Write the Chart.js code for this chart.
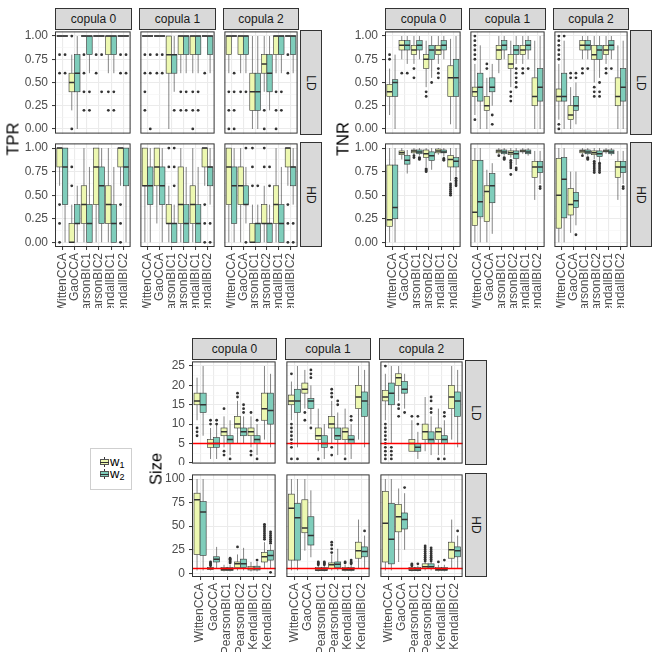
<!DOCTYPE html>
<html>
<head>
<meta charset="utf-8">
<script src="https://cdn.jsdelivr.net/npm/chart.js"></script>
<style>
body { margin: 0; width: 660px; height: 660px; background: #fff; position: relative; overflow: hidden;
       font-family: "Liberation Sans", Arial, sans-serif; }
canvas, .strip, .title, .clip { position: absolute; }
.clip { left: 0; top: 0; width: 660px; height: 308px; overflow: hidden; }
.strip { background: #D9D9D9; border: 1px solid #333; box-sizing: border-box; color: #1A1A1A; font-size: 12px;
         display: flex; align-items: center; justify-content: center; }
.strip span.rot { transform: rotate(90deg); display: inline-block; }
.title { font-size: 16.5px; font-weight: 400; color: #000; transform: translate(-50%, -50%) rotate(-90deg); white-space: nowrap; }
#legend { position: absolute; left: 90px; top: 448px; width: 42px; height: 42px; border: 1px solid #cfcfcf;
          box-sizing: border-box; font-size: 13px; }
.key { position: absolute; width: 9px; height: 10px; }
.key .wh { position: absolute; left: 4px; top: 0; width: 1px; height: 10px; background: #333; }
.key .bx { position: absolute; left: 0; top: 2px; width: 9px; height: 6px; border: 1px solid #555; box-sizing: border-box; }
.key .md { position: absolute; left: 0; top: 4.5px; width: 9px; height: 1px; background: #333; }
.lab { position: absolute; line-height: 13px; color: #000; }
.lab sub { font-size: 9px; vertical-align: -2px; }
</style>
</head>
<body>
<div class="clip" id="top"></div>
<div id="legend"></div>
<script>
const methods = ['WittenCCA', 'GaoCCA', 'PearsonBIC1', 'PearsonBIC2', 'KendallBIC1', 'KendallBIC2'];
const copulas = ['copula 0', 'copula 1', 'copula 2'];
const dims = ['LD', 'HD'];
const series = ['w1', 'w2'];

const unitTicks = [0, 0.25, 0.5, 0.75, 1];
const sizeLDTicks = [0, 5, 10, 15, 20, 25];
const sizeHDTicks = [0, 25, 50, 75, 100];

// one entry per method: [w1, w2], each box = [lower whisker, q1, median, q3, upper whisker, [outliers]]
const tprLD0 = [
  [[1, 1, 1, 1, 1, [.8, .6]], [1, 1, 1, 1, 1, [.8, .6]]],
  [[.2, .4, .5, .6, .8, [1, 0]], [0, .4, .6, .8, 1, []]],
  [[1, 1, 1, 1, 1, [.8, .6, .4, .2]], [.6, .8, 1, 1, 1, [.4, .2]]],
  [[1, 1, 1, 1, 1, [.8, .6]], [1, 1, 1, 1, 1, [.8, .4]]],
  [[.6, .8, 1, 1, 1, [.4, .2]], [.6, .8, 1, 1, 1, [.4, .2]]],
  [[1, 1, 1, 1, 1, [.8, .6]], [1, 1, 1, 1, 1, [.8, .6]]]
];
const tprLD1 = [
  [[1, 1, 1, 1, 1, [.8, .6, .4, .2]], [1, 1, 1, 1, 1, [.8, .6, 0]]],
  [[1, 1, 1, 1, 1, [.8, .6]], [1, 1, 1, 1, 1, [.8, .6]]],
  [[0, .6, .8, 1, 1, []], [.4, .6, .8, .8, 1, [.2]]],
  [[.6, .8, 1, 1, 1, [.4, .2]], [.6, .8, 1, 1, 1, [.4, .2]]],
  [[.6, .8, 1, 1, 1, [.4, .2, 0]], [.6, .8, 1, 1, 1, [.4, .2]]],
  [[1, 1, 1, 1, 1, [.6]], [.6, .8, 1, 1, 1, []]]
];
const tprLD2 = [
  [[.6, .8, 1, 1, 1, [.4, .2, 0]], [1, 1, 1, 1, 1, [.6, .4, .2, 0]]],
  [[.6, .8, 1, 1, 1, [.4]], [.6, .8, 1, 1, 1, [.4]]],
  [[0, .2, .4, .6, 1, []], [0, .2, .4, .6, 1, []]],
  [[.4, .6, .7, .8, 1, [.2, 0]], [.2, .4, .6, .8, 1, []]],
  [[.6, .8, 1, 1, 1, [.4, .2, 0]], [.6, .8, 1, 1, 1, [.4, .2]]],
  [[1, 1, 1, 1, 1, [.8, .6]], [.6, .8, 1, 1, 1, []]]
];
const tprHD0 = [
  [[.6, .8, 1, 1, 1, [.4, .2, 0]], [0, .4, .8, 1, 1, []]],
  [[0, 0, 0, .2, .4, [.8, .6]], [0, .2, .2, .4, .6, []]],
  [[0, .2, .4, .6, 1, []], [0, 0, .2, .4, .8, []]],
  [[0, .4, .8, 1, 1, []], [0, .2, .6, .8, 1, []]],
  [[0, .2, .4, .6, 1, []], [0, 0, .2, .4, .8, []]],
  [[.6, .8, 1, 1, 1, [.4, .2, 0]], [0, .6, .8, 1, 1, []]]
];
const tprHD1 = [
  [[0, .6, .6, 1, 1, []], [0, .4, .6, .8, 1, []]],
  [[.2, .6, .8, 1, 1, []], [0, .4, .6, .8, 1, []]],
  [[0, .2, .2, .4, .6, [1, .8]], [0, 0, .2, .2, .4, [1, .8, .6]]],
  [[0, .2, .4, .8, 1, []], [0, 0, .2, .4, .8, []]],
  [[0, .2, .4, .6, 1, []], [0, 0, .2, .4, .8, []]],
  [[.6, .8, 1, 1, 1, [.4, .2, 0]], [.4, .6, .8, .8, 1, [.2, 0]]]
];
const tprHD2 = [
  [[0, .4, .8, 1, 1, []], [0, .2, .6, .8, 1, []]],
  [[0, .4, .6, .8, 1, []], [.2, .4, .4, .6, .8, [1, 0]]],
  [[0, 0, 0, .2, .4, [1, .8, .6]], [0, 0, .2, .2, .4, [.6]]],
  [[0, .2, .2, .4, .6, [1, .8]], [0, 0, .2, .2, .4, [.8, .6]]],
  [[0, .2, .4, .6, 1, []], [0, 0, .2, .4, .8, []]],
  [[.6, .8, 1, 1, 1, [.4, .2, 0]], [.4, .6, .8, .8, 1, [.2, 0]]]
];

const tnrLD0 = [
  [[.15, .35, .4, .48, .65, [.75, .8]], [0, .35, .5, .53, .8, []]],
  [[.75, .85, .9, .95, 1, [.6]], [.7, .85, .9, .95, 1, [.6]]],
  [[.7, .8, .85, .9, 1, [.65, .55]], [.75, .85, .9, .95, 1, []]],
  [[.45, .65, .75, .8, .95, [.4, .35]], [.55, .75, .85, .9, 1, [.5]]],
  [[.7, .8, .85, .9, 1, [.65, .6, .55]], [.75, .85, .9, .95, 1, []]],
  [[.05, .35, .55, .68, .97, []], [0, .35, .55, .75, 1, []]]
];
const tnrLD1 = [
  [[.15, .35, .4, .45, .7, [1, .95, .9, .85, .8, .75, .1]], [0, .3, .45, .6, .9, []]],
  [[0, .2, .25, .35, .55, [.7, .65]], [.25, .4, .45, .55, .7, [.15, .05]]],
  [[.6, .75, .85, .9, 1, []], [.75, .85, .9, .95, 1, []]],
  [[.45, .65, .7, .8, .95, [.4, .35, .3]], [.7, .8, .85, .9, 1, [.65, .6, .55, .5, .45]]],
  [[.7, .8, .85, .9, 1, [.65, .6]], [.75, .85, .9, .95, 1, [.65]]],
  [[0, .25, .35, .55, .95, []], [0, .3, .45, .65, 1, []]]
];
const tnrLD2 = [
  [[.1, .3, .35, .43, .7, [1, .95, .9, .85, .8, .75, .05, 0]], [0, .3, .35, .6, .95, [1]]],
  [[0, .1, .15, .25, .45, [.6, .55]], [.05, .2, .25, .35, .5, [.6, .55]]],
  [[.75, .85, .9, .95, 1, [.65, .6]], [.75, .85, .9, .95, 1, [.65]]],
  [[.5, .75, .8, .9, 1, [.45, .4, .35]], [.55, .75, .85, .9, 1, [.5, .4, .35]]],
  [[.7, .8, .85, .9, 1, [.65, .6]], [.75, .85, .9, .95, 1, [.65]]],
  [[0, .25, .35, .55, .9, []], [0, .3, .45, .65, .95, []]]
];
const tnrHD0 = [
  [[0, .17, .24, .82, 1, []], [0, .25, .37, .82, 1, []]],
  [[.88, .93, .95, .97, 1, []], [.73, .83, .87, .92, .98, []]],
  [[.93, .95, .97, .98, 1, [.92, .9]], [.92, .94, .96, .98, 1, [.9, .89, .88]]],
  [[.8, .9, .94, .98, 1, [.78, .77, .76, .75]], [.77, .87, .92, .96, 1, []]],
  [[.93, .95, .97, .99, 1, []], [.91, .95, .96, .98, 1, [.89, .88, .87]]],
  [[.65, .8, .88, .92, 1, [.62, .6, .58, .56, .54, .52, .5]], [.7, .8, .86, .9, 1, [.68, .66, .64, .62, .6]]]
];
const tnrHD1 = [
  [[0, .18, .32, .87, 1, []], [0, .27, .43, .87, 1, []]],
  [[0, .22, .54, .6, .77, []], [.09, .42, .6, .73, .84, []]],
  [[.93, .95, .97, .98, 1, [.92]], [.92, .94, .96, .98, 1, [.9, .89, .88]]],
  [[.9, .93, .95, .97, 1, [.87, .85, .83, .81, .79, .72]], [.82, .89, .94, .97, 1, [.79, .77]]],
  [[.94, .96, .97, .98, 1, []], [.92, .94, .96, .98, 1, []]],
  [[.45, .69, .8, .86, .97, []], [.62, .74, .8, .86, .97, [.59, .57]]]
];
const tnrHD2 = [
  [[0, .15, .5, .89, 1, []], [0, .26, .67, .9, 1, []]],
  [[.1, .29, .4, .57, .75, []], [.18, .37, .44, .53, .75, [.08]]],
  [[.93, .95, .97, .98, 1, [.92]], [.92, .94, .96, .98, 1, [.9, .89, .88]]],
  [[.88, .93, .95, .97, 1, [.86, .84, .82, .8, .78, .76, .74]], [.85, .91, .94, .97, 1, [.84, .82, .8, .78, .76, .74]]],
  [[.94, .96, .97, .98, 1, []], [.92, .94, .96, .98, 1, []]],
  [[.45, .69, .8, .86, .97, []], [.62, .74, .8, .86, .97, [.59, .57]]]
];

const sizeLD0 = [
  [[11, 15, 16, 18, 22, [9, 8, 7]], [7, 13, 15, 18, 25, []]],
  [[1, 4, 5, 6, 9, [11, 10]], [1, 4, 5, 6.5, 10, [11, 10]]],
  [[4, 7, 8, 9, 12, [14, 3, 2]], [2, 5, 6, 7, 11, [1]]],
  [[5, 9, 10, 12, 16, [18, 17]], [5, 7, 8, 9, 12, [15, 14, 13]]],
  [[4, 7, 8, 9, 12, [13, 3, 2]], [2, 5, 6, 7, 10, [11, 1]]],
  [[6, 11, 14, 18, 25, []], [4, 10, 13.5, 18, 23, []]]
];
const sizeLD1 = [
  [[11, 15, 16, 17.5, 21, [23, 10, 9, 8, 7, 6, 5, 4, 1]], [4, 13, 16, 19, 25, [1]]],
  [[14, 18, 19, 20.6, 24, [13, 11]], [10, 14, 16, 16.6, 20, [24, 23, 22, 9]]],
  [[3, 6, 7, 9, 14, [1]], [1, 4, 5, 7, 10, []]],
  [[5, 9, 10, 12, 16, [19, 18, 17, 4, 2]], [2, 6, 7, 9, 13, [16, 15]]],
  [[2, 6, 8, 9, 14, [1]], [1, 5, 6, 7, 10, [12, 11]]],
  [[6, 14, 17, 20, 25, []], [4, 12, 16, 18.3, 24, []]]
];
const sizeLD2 = [
  [[11, 16, 17, 18.7, 23, [25, 10, 9, 8, 7, 6, 5, 4, 3, 2, 1]], [5, 15, 18, 20.6, 25, [4, 3, 2, 1]]],
  [[16, 20, 22, 23, 25, [15, 14, 12]], [14, 18, 19, 21, 23, [13]]],
  [[3, 3, 5, 6, 11, [12]], [1, 3, 4, 5, 8, [12, 10]]],
  [[3, 6, 8, 10, 17, []], [2, 5, 6, 8, 12, [17, 16, 14, 13]]],
  [[2, 6, 8, 9, 14, [1]], [2, 5, 6, 7, 11, [13, 12, 1]]],
  [[6, 14, 17, 20, 25, []], [4, 12, 16, 18.3, 24, []]]
];
const sizeHD0 = [
  [[3, 20, 78, 85, 100, []], [3, 19, 65, 76, 100, []]],
  [[3, 4, 5, 6, 7, [12, 11, 10, 9, 8]], [5, 12, 15, 17.5, 28, []]],
  [[2, 3, 4, 6, 9, []], [2, 3, 4, 6, 9, [16, 15, 14, 13, 12, 11]]],
  [[3, 6, 10, 12, 20, [28]], [3, 6, 10, 15, 27, []]],
  [[2, 3.5, 5, 7, 12, []], [2, 3.5, 5, 7.5, 12, [14]]],
  [[5, 12, 17.5, 22, 33, [52, 50, 48, 46, 44, 42, 40, 38, 36]], [5, 14, 19, 24, 30, [44, 42, 40, 38, 36, 34, 32, 1]]]
];
const sizeHD1 = [
  [[3, 14, 69, 84, 100, []], [3, 14, 59, 74, 100, []]],
  [[24, 43, 48, 78, 100, []], [17, 30, 40, 60, 88, []]],
  [[2, 3, 3.5, 6, 8, [12, 11, 10, 9]], [2, 3, 3.5, 6, 8, [12, 11, 10, 9]]],
  [[3, 5, 9, 11, 20, [33, 30, 26, 22]], [3, 6, 9.5, 12, 26, []]],
  [[2, 3, 4, 6, 9, [12, 11]], [2, 3, 4, 6, 9, [14, 12, 11, 10]]],
  [[5, 16, 24, 33, 57, []], [5, 17.5, 23, 28, 40, [45]]]
];
const sizeHD2 = [
  [[3, 12, 53, 87, 100, []], [3, 10, 36, 74, 100, []]],
  [[12, 44, 60, 73, 90, []], [25, 47, 57, 64, 85, [91]]],
  [[2, 3, 3.5, 6, 8, [10, 9, 8]], [2, 3, 3.5, 6, 8, [10]]],
  [[3, 5, 7, 10, 12, [29, 27, 25, 23, 21, 19, 17, 15, 13]], [3, 5, 7, 10, 12, [27, 25, 23, 21, 19, 17, 15, 13]]],
  [[2, 3, 4, 6, 9, [12]], [2, 3, 4, 6, 9, [14]]],
  [[5, 16, 25, 33, 57, []], [5, 17.5, 24, 28, 40, [45]]]
];

const FONT = '"Liberation Sans", Arial, sans-serif';
const fills = ['#EDF8B1', '#7FCDBB'];
const dodge = [-0.225, 0.225];
const half = 0.225;

// facet blocks (layout only)
const blocks = [
  { title: 'TPR', parent: 'top', data: [[tprLD0, tprLD1, tprLD2], [tprHD0, tprHD1, tprHD2]],
    ticks: [unitTicks, unitTicks], ranges: [[-0.05, 1.05], [-0.05, 1.05]], fmt: v => v.toFixed(2), ref: null,
    cols: [[55, 132], [139, 216], [223, 299]], rows: [[30, 135], [142, 247]], strip: [8, 30], rstrip: [300, 322], tx: 13 },
  { title: 'TNR', parent: 'top', data: [[tnrLD0, tnrLD1, tnrLD2], [tnrHD0, tnrHD1, tnrHD2]],
    ticks: [unitTicks, unitTicks], ranges: [[-0.05, 1.05], [-0.05, 1.05]], fmt: v => v.toFixed(2), ref: null,
    cols: [[385, 462], [469, 546], [553, 629]], rows: [[30, 135], [142, 247]], strip: [8, 30], rstrip: [630, 652], tx: 343 },
  { title: 'Size', parent: 'body', data: [[sizeLD0, sizeLD1, sizeLD2], [sizeHD0, sizeHD1, sizeHD2]],
    ticks: [sizeLDTicks, sizeHDTicks], ranges: [[-0.2, 26.2], [-3.95, 104.95]], fmt: v => String(v), ref: 5,
    cols: [[192, 277], [285, 371], [379, 464]], rows: [[360, 465], [473, 577]], strip: [338, 360], rstrip: [465, 487], tx: 156 }
];

function withMinor(major) {
  const out = [];
  major.forEach((v, i) => {
    out.push({ value: v });
    if (i < major.length - 1) out.push({ value: (v + major[i + 1]) / 2, minor: true });
  });
  return out;
}

function boxPlugin(stats, ref) {
  return {
    id: 'boxes',
    beforeDatasetsDraw(chart) {
      const { ctx, chartArea: a, scales: { x, y } } = chart;
      const py = v => y.getPixelForValue(v);
      ctx.save();
      ctx.beginPath(); ctx.rect(a.left, a.top, a.width, a.height); ctx.clip();
      stats.forEach((pair, i) => pair.forEach((b, s) => {
        const c = i + 1 + dodge[s];
        const xl = x.getPixelForValue(c - half), xr = x.getPixelForValue(c + half), xm = x.getPixelForValue(c);
        ctx.strokeStyle = '#333';
        ctx.lineWidth = 0.6;
        ctx.beginPath();
        ctx.moveTo(xm, py(b[4])); ctx.lineTo(xm, py(b[3]));
        ctx.moveTo(xm, py(b[1])); ctx.lineTo(xm, py(b[0]));
        ctx.stroke();
        ctx.fillStyle = fills[s];
        ctx.fillRect(xl, py(b[3]), xr - xl, py(b[1]) - py(b[3]));
        ctx.strokeRect(xl, py(b[3]), xr - xl, py(b[1]) - py(b[3]));
        ctx.lineWidth = 1.5;
        ctx.beginPath(); ctx.moveTo(xl, py(b[2])); ctx.lineTo(xr, py(b[2])); ctx.stroke();
      }));
      ctx.restore();
    },
    afterDatasetsDraw(chart) {
      if (ref === null) return;
      const { ctx, chartArea: a, scales: { y } } = chart;
      const yy = y.getPixelForValue(ref);
      ctx.save();
      ctx.strokeStyle = 'rgb(255, 0, 0)';
      ctx.lineWidth = 1.6;
      ctx.beginPath(); ctx.moveTo(a.left, yy); ctx.lineTo(a.right, yy); ctx.stroke();
      ctx.restore();
    },
    afterDraw(chart) {
      const { ctx, chartArea: a } = chart;
      ctx.save();
      ctx.strokeStyle = '#333';
      ctx.lineWidth = 1;
      ctx.strokeRect(a.left + 0.5, a.top + 0.5, a.width - 1, a.height - 1);
      ctx.restore();
    }
  };
}

function panel(parent, block, r, c) {
  const left = c === 0, bottom = r === 1;
  const [x0, x1] = block.cols[c], [y0, y1] = block.rows[r];
  const cv = document.createElement('canvas');
  const w = x1 - x0 + (left ? 40 : 0), h = y1 - y0 + (bottom ? 75 : 0);
  cv.width = w; cv.height = h;
  cv.style.left = (x0 - (left ? 40 : 0)) + 'px';
  cv.style.top = y0 + 'px';
  parent.appendChild(cv);
  const stats = block.data[r][c];
  const yt = withMinor(block.ticks[r]);
  const isMinor = ctx => ctx.tick && ctx.tick.minor;
  new Chart(cv, {
    type: 'scatter',
    data: {
      datasets: series.map((s, k) => ({
        label: s,
        data: stats.flatMap((pair, i) => pair[k][5].map(v => ({ x: i + 1 + dodge[k], y: v }))),
        pointRadius: 1.4, pointHoverRadius: 1.4, borderWidth: 0,
        backgroundColor: '#333', pointBackgroundColor: '#333'
      }))
    },
    options: {
      responsive: false, animation: false, events: [],
      layout: { padding: 0 },
      plugins: { legend: { display: false }, tooltip: { enabled: false } },
      scales: {
        x: {
          type: 'linear', min: 0.4, max: 6.6,
          afterBuildTicks: s => { s.ticks = methods.map((m, i) => ({ value: i + 1 })); },
          afterFit: s => { s.height = bottom ? 75 : 0; s.paddingLeft = 0; s.paddingRight = 0; },
          ticks: { display: bottom, autoSkip: false, minRotation: 90, maxRotation: 90, padding: 3,
                   color: '#4D4D4D', font: { size: 12, family: FONT }, callback: (v, i) => methods[i] },
          grid: { color: '#EBEBEB', lineWidth: 1.1, drawTicks: bottom, tickLength: 3, tickColor: '#333', tickWidth: 1 },
          border: { display: false }
        },
        y: {
          type: 'linear', min: block.ranges[r][0], max: block.ranges[r][1],
          afterBuildTicks: s => { s.ticks = yt.map(t => ({ ...t })); },
          afterFit: s => { s.width = left ? 40 : 0; s.paddingTop = 0; s.paddingBottom = 0; },
          ticks: { display: left, autoSkip: false, padding: 4, color: '#4D4D4D', font: { size: 12, family: FONT },
                   callback: (v, i, t) => t[i].minor ? '' : block.fmt(v) },
          grid: { color: ctx => isMinor(ctx) ? '#F4F4F4' : '#EBEBEB', lineWidth: ctx => isMinor(ctx) ? 0.6 : 1.1,
                  drawTicks: left, tickLength: 3, tickWidth: 1,
                  tickColor: ctx => isMinor(ctx) ? 'rgba(0,0,0,0)' : '#333' },
          border: { display: false }
        }
      }
    },
    plugins: [boxPlugin(stats, block.ref)]
  });
}

function div(parent, cls, css, html) {
  const d = document.createElement('div');
  d.className = cls;
  Object.assign(d.style, css);
  d.innerHTML = html;
  parent.appendChild(d);
  return d;
}

blocks.forEach(block => {
  const parent = block.parent === 'top' ? document.getElementById('top') : document.body;
  block.cols.forEach(([x0, x1], c) => {
    div(parent, 'strip', { left: x0 + 'px', top: block.strip[0] + 'px', width: (x1 - x0) + 'px', height: (block.strip[1] - block.strip[0]) + 'px' }, copulas[c]);
  });
  block.rows.forEach(([y0, y1], r) => {
    div(parent, 'strip', { left: block.rstrip[0] + 'px', top: y0 + 'px', width: (block.rstrip[1] - block.rstrip[0]) + 'px', height: (y1 - y0) + 'px' },
        '<span class="rot">' + dims[r] + '</span>');
    block.cols.forEach((col, c) => panel(parent, block, r, c));
  });
  const mid = (block.rows[0][0] + block.rows[1][1]) / 2;
  div(parent, 'title', { left: block.tx + 'px', top: mid + 'px' }, block.title);
});

const legend = document.getElementById('legend');
series.forEach((s, k) => {
  const cy = 13 + k * 12;
  div(legend, 'key', { left: '9px', top: (cy - 5) + 'px' },
      '<div class="wh"></div><div class="bx" style="background:' + fills[k] + '"></div><div class="md"></div>');
  div(legend, 'lab', { left: '19px', top: (cy - 7) + 'px' }, 'w<sub>' + s.slice(1) + '</sub>');
});
</script>
</body>
</html>
